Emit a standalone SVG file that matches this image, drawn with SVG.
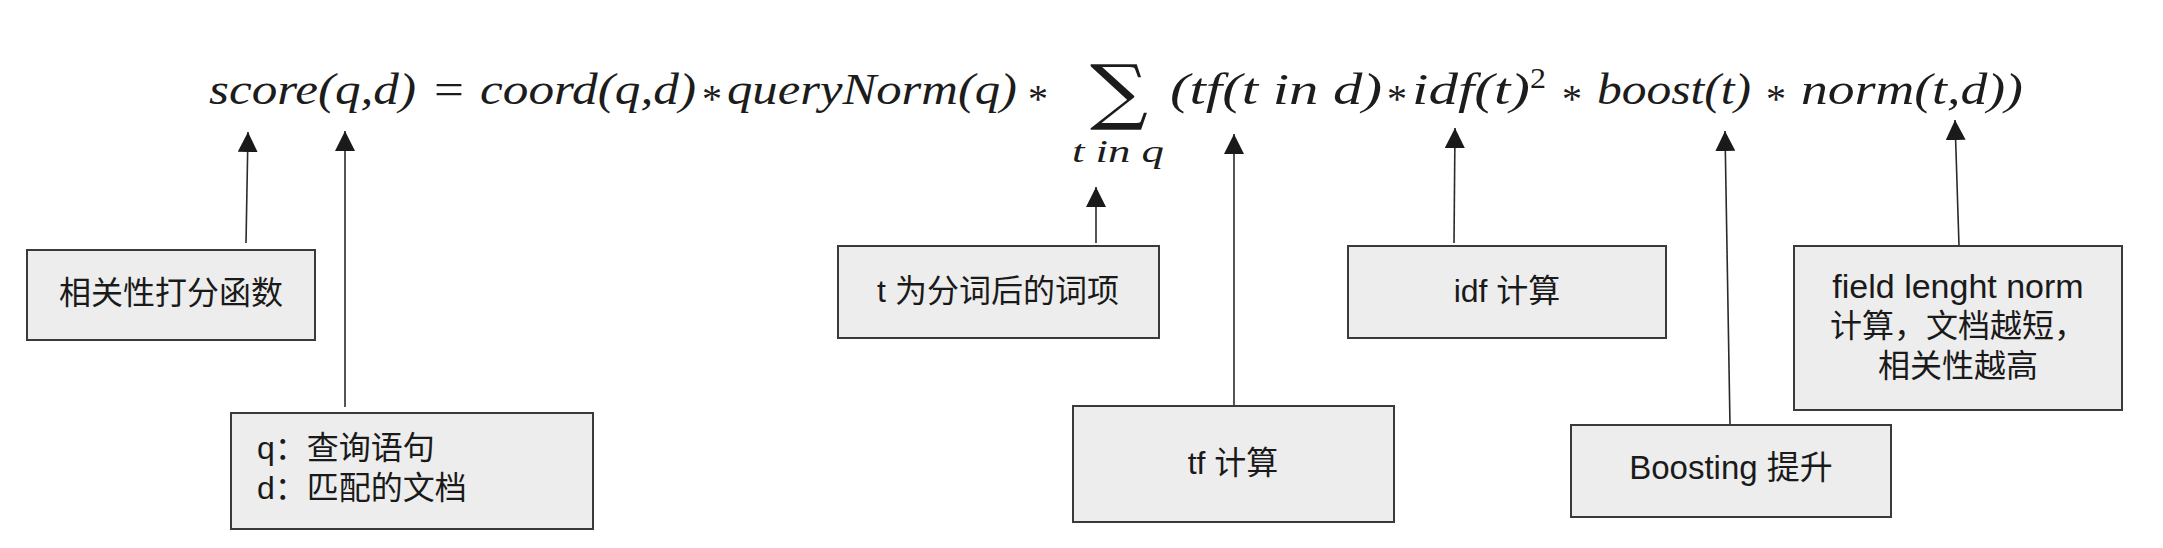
<svg xmlns="http://www.w3.org/2000/svg" width="2163" height="548" viewBox="0 0 2163 548">
<defs>
<style>
.f{font-family:"Liberation Serif","DejaVu Serif",serif;font-style:italic;font-size:44px;fill:#1c1c1c}
.u{font-family:"Liberation Serif","DejaVu Serif",serif;font-size:44px;fill:#1c1c1c}
.op{font-family:"Liberation Serif","DejaVu Serif",serif;font-size:40px;fill:#1c1c1c;text-anchor:middle}
.box{fill:#ededed;stroke:#3a3a3a;stroke-width:2}
.lbl{font-family:"Liberation Sans","Noto Sans CJK SC",sans-serif;font-size:32px;fill:#1a1a1a}
.c{text-anchor:middle}
.con line{stroke:#2a2a2a;stroke-width:1.6;marker-end:url(#ah)}
</style>
<marker id="ah" markerUnits="userSpaceOnUse" markerWidth="20" markerHeight="20" viewBox="0 0 20 20" refX="20" refY="10" orient="auto">
<path d="M0,0 L20,10 L0,20 z" fill="#1a1a1a"/>
</marker>
</defs>
<rect width="2163" height="548" fill="#ffffff"/>
<g id="formula">
<text class="f" x="209" y="104" textLength="207" lengthAdjust="spacingAndGlyphs">score(q,d)</text>
<text class="u" x="434" y="104" textLength="30" lengthAdjust="spacingAndGlyphs">=</text>
<text class="f" x="480" y="104" textLength="216" lengthAdjust="spacingAndGlyphs">coord(q,d)</text>
<text class="op" x="712" y="112">*</text>
<text class="f" x="727" y="104" textLength="290" lengthAdjust="spacingAndGlyphs">queryNorm(q)</text>
<text class="op" x="1038" y="112">*</text>
<text x="1090" y="116" font-family="DejaVu Serif, serif" font-size="72" fill="#1c1c1c" textLength="58" lengthAdjust="spacingAndGlyphs">∑</text>
<text class="f" x="1072" y="162" textLength="92" lengthAdjust="spacingAndGlyphs" style="font-size:31px">t in q</text>
<text class="f" x="1170" y="104" textLength="212" lengthAdjust="spacingAndGlyphs">(tf(t in d)</text>
<text class="op" x="1397" y="112">*</text>
<text class="f" x="1412" y="104" textLength="118" lengthAdjust="spacingAndGlyphs">idf(t)</text>
<text class="u" x="1530" y="88" style="font-size:29px" textLength="16" lengthAdjust="spacingAndGlyphs">2</text>
<text class="op" x="1572" y="112">*</text>
<text class="f" x="1597" y="104" textLength="154" lengthAdjust="spacingAndGlyphs">boost(t)</text>
<text class="op" x="1776" y="112">*</text>
<text class="f" x="1801" y="104" textLength="222" lengthAdjust="spacingAndGlyphs">norm(t,d))</text>
</g>
<g class="con" id="connectors">
<line x1="246" y1="243" x2="248" y2="132"/>
<line x1="345" y1="407" x2="345" y2="131"/>
<line x1="1096" y1="243" x2="1096" y2="187"/>
<line x1="1234" y1="405" x2="1234" y2="134"/>
<line x1="1454" y1="243" x2="1455" y2="128"/>
<line x1="1730" y1="425" x2="1725" y2="131"/>
<line x1="1959" y1="246" x2="1955" y2="120"/>
</g>
<g id="n-score">
<rect class="box" x="27" y="250" width="288" height="90"/>
<text class="lbl c" x="171" y="304">相关性打分函数</text>
</g>
<g id="n-qd">
<rect class="box" x="231" y="413" width="362" height="116"/>
<text class="lbl" x="257" y="459">q：查询语句</text>
<text class="lbl" x="257" y="499">d：匹配的文档</text>
</g>
<g id="n-t">
<rect class="box" x="838" y="246" width="321" height="92"/>
<text class="lbl c" x="998" y="302">t 为分词后的词项</text>
</g>
<g id="n-tf">
<rect class="box" x="1073" y="406" width="321" height="116"/>
<text class="lbl c" x="1233" y="474">tf 计算</text>
</g>
<g id="n-idf">
<rect class="box" x="1348" y="246" width="318" height="92"/>
<text class="lbl c" x="1507" y="302">idf 计算</text>
</g>
<g id="n-boost">
<rect class="box" x="1571" y="425" width="320" height="92"/>
<text class="lbl c" x="1731" y="479" style="font-size:33px">Boosting 提升</text>
</g>
<g id="n-norm">
<rect class="box" x="1794" y="246" width="328" height="164"/>
<text class="lbl c" x="1958" y="298" style="font-size:34px">field lenght norm</text>
<text class="lbl c" x="1958" y="337">计算，文档越短，</text>
<text class="lbl c" x="1958" y="377">相关性越高</text>
</g>
</svg>
